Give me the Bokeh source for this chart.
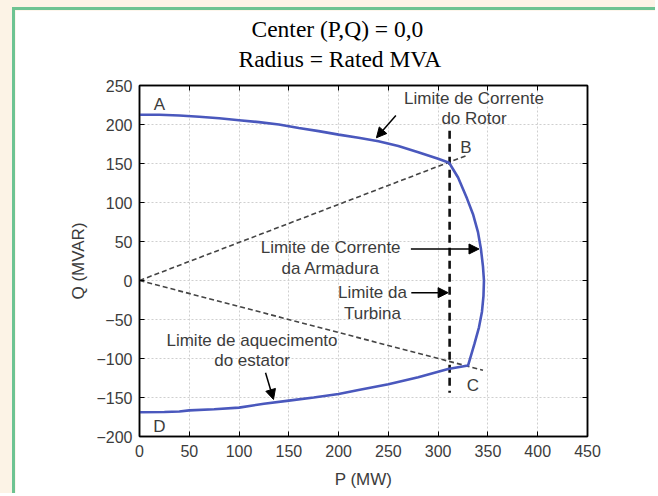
from bokeh.plotting import figure
from bokeh.models import (Range1d, LinearAxis, FixedTicker, Title, Arrow, NormalHead,
                          ColumnDataSource)
from bokeh.layouts import column
from bokeh.core.properties import value
from bokeh.embed import file_html
from bokeh.resources import INLINE

# ---- data ----
P_rotor = [0, 20, 40, 60, 80, 100, 120, 140, 160, 180, 200, 220, 240, 260, 280, 300, 311]
Q_rotor = [212.5, 212.5, 211.5, 210, 208, 205.5, 203, 200, 195.5, 191.5, 187, 183, 178.5, 172.5, 164.5, 156, 151]

P_arm = [311, 320, 329, 335, 340, 343, 345, 346, 345.5, 344, 341, 336.5, 330]
Q_arm = [151, 132, 105, 85, 62, 40, 18, 0, -20, -40, -60, -81, -109]

P_stator = [330, 310, 280, 250, 220, 200, 175, 150, 125, 100, 75, 50, 40, 25, 0]
Q_stator = [-109, -113.5, -124, -133, -140.5, -145.5, -150, -154, -158, -163, -165, -166.5, -168, -168.5, -169]

# dashed construction lines
P_ray_up = [0, 328]
Q_ray_up = [0, 160]
P_ray_down = [0, 345]
Q_ray_down = [0, -115]
P_turbine = [311.5, 311.5]
Q_turbine = [192, -144]

x_ticks = [0, 50, 100, 150, 200, 250, 300, 350, 400, 450]
y_ticks = [-200, -150, -100, -50, 0, 50, 100, 150, 200, 250]

title_lines = ["Center (P,Q) = 0,0", "Radius = Rated MVA"]

# annotation texts
label_text = ["A", "B", "C", "D",
              "Limite de Corrente", "do Rotor",
              "Limite de Corrente", "da Armadura",
              "Limite da", "Turbina",
              "Limite de aquecimento", "do estator"]
label_P = [20, 328, 335, 20, 336, 336, 192, 192, 234, 234, 113, 113]
label_Q = [225.5, 170.5, -135, -187, 233.5, 207.5, 42.5, 15.2, -15.6, -42.6, -77.2, -102.9]

# arrows: (P_start, Q_start, P_end, Q_end)
arrow_P0 = [257.5, 272.6, 273.0, 126.6]
arrow_Q0 = [211.5, 40.4, -15.6, -118.3]
arrow_P1 = [238.0, 341.0, 310.0, 134.6]
arrow_Q1 = [183.0, 40.4, -15.6, -152.5]

TEXT = "#3c3c3c"
SANS = "Liberation Sans"
GREEN = "#6dc392"
CREAM = "#fcf3e6"

fig = figure(width=643, height=486, output_backend="svg", toolbar_location=None,
             x_range=Range1d(0, 450), y_range=Range1d(-200, 250),
             min_border_left=124, min_border_right=71, min_border_top=75, min_border_bottom=60,
             background_fill_color="white", border_fill_color="white",
             outline_line_color="black", outline_line_width=1.5)
fig.styles = {"border-left": "3px solid " + GREEN, "border-top": "3px solid " + GREEN}

# frame-side tick-only axes, then titles (first added sits nearest the frame)
top_axis = LinearAxis(ticker=FixedTicker(ticks=x_ticks), major_label_text_font_size="0px",
                      major_label_text_color=None,
                      major_tick_in=5, major_tick_out=0, minor_tick_line_color=None,
                      axis_line_width=1.5, major_label_standoff=0)
fig.add_layout(top_axis, "above")
fig.add_layout(Title(text=title_lines[1], align="left", offset=99,
                     text_font="Liberation Serif", text_font_size="23.5px",
                     text_font_style="normal", text_color="black", standoff=27.5), "above")
fig.add_layout(Title(text=title_lines[0], align="left", offset=112,
                     text_font="Liberation Serif", text_font_size="23.5px",
                     text_font_style="normal", text_color="black", standoff=-24), "above")
right_axis = LinearAxis(ticker=FixedTicker(ticks=y_ticks), major_label_text_font_size="0px",
                        major_label_text_color=None,
                        major_tick_in=5, major_tick_out=0, minor_tick_line_color=None,
                        axis_line_width=1.5, major_label_standoff=0)
fig.add_layout(right_axis, "right")

xa = fig.below[0]
ya = fig.left[0]
xa.ticker = FixedTicker(ticks=x_ticks)
ya.ticker = FixedTicker(ticks=y_ticks)
ya.major_label_overrides = {t: (("\u2212" + str(abs(t))) if t < 0 else str(t)) for t in y_ticks}
for ax in (xa, ya):
    ax.major_tick_in = 5
    ax.major_tick_out = 0
    ax.minor_tick_line_color = None
    ax.axis_line_width = 1.5
    ax.major_label_text_font = SANS
    ax.major_label_text_font_size = "16px"
    ax.major_label_text_color = TEXT
    ax.axis_label_text_font = SANS
    ax.axis_label_text_font_size = "17px"
    ax.axis_label_text_font_style = "normal"
    ax.axis_label_text_color = TEXT
xa.axis_label = "P (MW)"
ya.axis_label = "Q (MVAR)"
xa.major_label_standoff = 8
ya.major_label_standoff = 7
xa.axis_label_standoff = 10
ya.axis_label_standoff = 5

fig.xgrid[0].ticker = FixedTicker(ticks=x_ticks)
fig.ygrid[0].ticker = FixedTicker(ticks=y_ticks)
for g in (fig.xgrid[0], fig.ygrid[0]):
    g.grid_line_color = "#cfcfcf"
    g.grid_line_dash = "2 2"
    g.grid_line_width = 1

# dashed construction lines
fig.line(P_ray_up, Q_ray_up, line_color="#444444", line_width=1.6, line_dash="5 3")
fig.line(P_ray_down, Q_ray_down, line_color="#444444", line_width=1.6, line_dash="5 3")
fig.line(P_turbine, Q_turbine, line_color="#111111", line_width=2.6, line_dash="8 5")

# capability curve A-B-C-D
P_curve = P_rotor + P_arm[1:] + P_stator[1:]
Q_curve = Q_rotor + Q_arm[1:] + Q_stator[1:]
fig.line(P_curve, Q_curve, line_color="#4a58bd", line_width=2.6)

# arrows
for i in range(len(arrow_P0)):
    fig.add_layout(Arrow(end=NormalHead(size=10, fill_color="black", line_color="black"),
                         x_start=arrow_P0[i], y_start=arrow_Q0[i],
                         x_end=arrow_P1[i], y_end=arrow_Q1[i],
                         line_color="black", line_width=1.5))

src = ColumnDataSource(dict(x=label_P, y=label_Q, t=label_text))
fig.text(x="x", y="y", text="t", source=src, text_align="center", text_baseline="middle",
         text_font=value(SANS), text_font_size="17px", text_color=TEXT)

p = column(fig, styles={"background-color": CREAM, "padding-left": "12px", "padding-top": "7px"})

open("out.html", "w").write(file_html(p, INLINE))
